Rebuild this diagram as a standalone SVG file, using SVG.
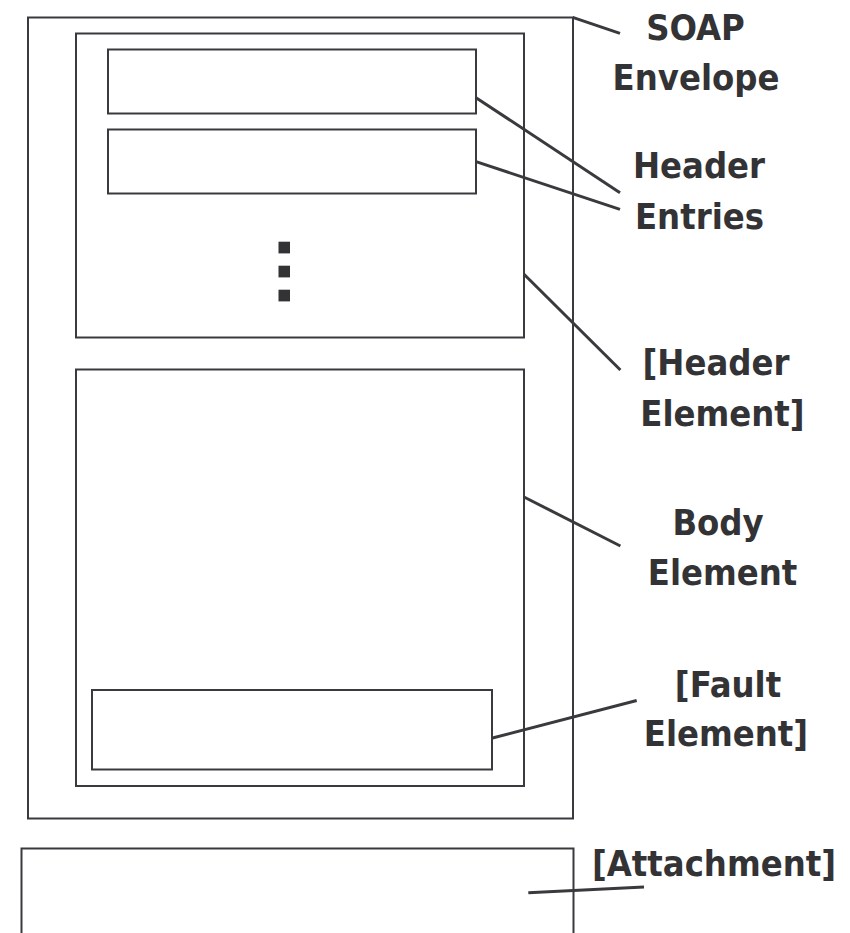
<svg xmlns="http://www.w3.org/2000/svg" width="850" height="933" viewBox="0 0 850 933">
<style>
  .box { fill: none; stroke: #3a3a3e; stroke-width: 2; }
  .conn { fill: none; stroke: #3a3a3e; stroke-width: 3; }
  .lbl { font-family: "DejaVu Sans Condensed", "DejaVu Sans", Verdana, sans-serif; font-stretch: condensed; font-weight: bold; font-size: 36px; fill: #333336; text-anchor: middle; }
  .dot { fill: #333336; }
</style>
<rect width="850" height="933" fill="#ffffff"/>
<g id="envelope">
  <rect class="box" x="28" y="17.5" width="545" height="801"/>
</g>
<g id="header-element">
  <rect class="box" x="76" y="33.5" width="448" height="304"/>
  <rect class="dot" x="278.5" y="241.7" width="11.5" height="11.7"/>
  <rect class="dot" x="278.5" y="265.7" width="11.5" height="11.7"/>
  <rect class="dot" x="278.5" y="289.7" width="11.5" height="11.7"/>
</g>
<g id="header-entry-1">
  <rect class="box" x="108" y="49.5" width="368" height="64"/>
</g>
<g id="header-entry-2">
  <rect class="box" x="108" y="129.5" width="368" height="64"/>
</g>
<g id="body-element">
  <rect class="box" x="76" y="369.5" width="448" height="416.5"/>
</g>
<g id="fault-element">
  <rect class="box" x="92" y="690" width="400" height="79.5"/>
</g>
<g id="attachment">
  <path class="box" d="M21.5,940 V848.5 H573.5 V940"/>
</g>
<g id="connectors">
  <line class="conn" x1="572.7" y1="17.3" x2="620" y2="33.3"/>
  <line class="conn" x1="476" y1="97.7" x2="620" y2="192.7"/>
  <line class="conn" x1="476" y1="161.7" x2="620" y2="209.3"/>
  <line class="conn" x1="524" y1="274.3" x2="620.4" y2="370"/>
  <line class="conn" x1="524" y1="497" x2="620.4" y2="546"/>
  <line class="conn" x1="492.5" y1="738" x2="636.7" y2="700.5"/>
  <line class="conn" x1="528.3" y1="892.7" x2="644" y2="887"/>
</g>
<g id="labels">
  <text class="lbl" x="695.5" y="39.5">SOAP</text>
  <text class="lbl" x="696" y="90">Envelope</text>
  <text class="lbl" x="699" y="177.5">Header</text>
  <text class="lbl" x="699.5" y="228.5">Entries</text>
  <text class="lbl" x="716" y="375">[Header</text>
  <text class="lbl" x="722.5" y="426">Element]</text>
  <text class="lbl" x="718" y="535">Body</text>
  <text class="lbl" x="722.5" y="585">Element</text>
  <text class="lbl" x="728" y="697">[Fault</text>
  <text class="lbl" x="726" y="746">Element]</text>
  <text class="lbl" x="714" y="876">[Attachment]</text>
</g>
</svg>
